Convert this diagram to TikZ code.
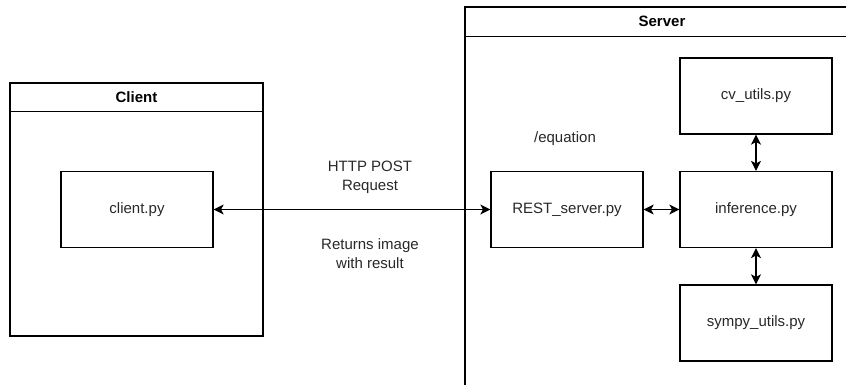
\documentclass[tikz,border=0pt]{standalone}
\usepackage{fontspec}
\setmainfont{Liberation Sans}
\usetikzlibrary{arrows.meta}

\begin{document}
\begin{tikzpicture}[x=1pt,y=1pt,
  box/.style={draw=drawColor,line width=1.2pt,minimum width=152pt,minimum height=76pt,inner sep=0pt,text=textColor,font=\fontsize{15}{19}\selectfont},
  pane/.style={draw=drawColor,line width=1.2pt,inner sep=0pt},
  title/.style={inner sep=0pt,text=drawColor,font=\fontsize{15}{19}\selectfont\bfseries},
  lbl/.style={align=center,inner sep=0pt,text=textColor,font=\fontsize{15}{19}\selectfont},
  link/.style={draw=drawColor,line width=1.2pt,{Stealth[length=10pt,width=10pt,inset=2.5pt]}-{Stealth[length=10pt,width=10pt,inset=2.5pt]}}]
\definecolor{drawColor}{RGB}{0,0,0}
\definecolor{textColor}{RGB}{40,40,40}
\definecolor{fillColor}{RGB}{255,255,255}
\path[use as bounding box,fill=fillColor] (0,0) rectangle (846,385);
\begin{scope}
\path[clip] (0,0) rectangle (846,385);

% containers
\node[pane,minimum width=253pt,minimum height=253pt] (clientpane) at (136.5,175.5) {};
\draw[draw=drawColor,line width=1.2pt] ([yshift=-29pt]clientpane.north west) -- ([yshift=-29pt]clientpane.north east);
\node[title] (clienttitle) at ([yshift=-14.5pt]clientpane.north) {Client};

\node[pane,minimum width=394pt,minimum height=393pt] (serverpane) at (662,181.5) {};
\draw[draw=drawColor,line width=1.2pt] ([yshift=-30pt]serverpane.north west) -- ([yshift=-30pt]serverpane.north east);
\node[title] (servertitle) at ([yshift=-15pt]serverpane.north) {Server};

% modules
\node[box] (client) at (137,175.5) {client.py};
\node[box] (rest) at (567,175.5) {REST\_server.py};
\node[box] (infer) at (756,175.5) {inference.py};
\node[box] (cvutils) at (756,289) {cv\_utils.py};
\node[box] (sympy) at (756,62) {sympy\_utils.py};

% labels
\node[lbl] (request) at (370,207.5) {HTTP POST\\Request};
\node[lbl] (returns) at (370,131.5) {Returns image\\with result};
\node[lbl] (route) at (565,246) {/equation};

% connectors
\path[link] (client.east) -- (rest.west);
\path[link] (rest.east) -- (infer.west);
\path[link] (cvutils.south) -- (infer.north);
\path[link] (infer.south) -- (sympy.north);
\end{scope}
\end{tikzpicture}
\end{document}
